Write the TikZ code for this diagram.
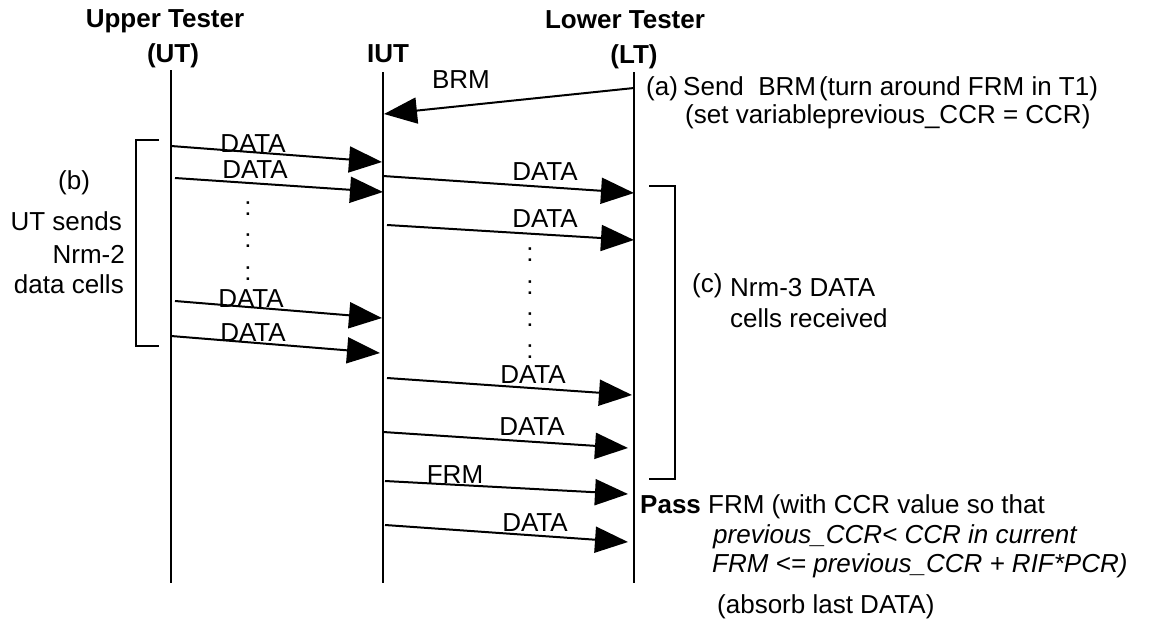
\documentclass[tikz,border=0pt]{standalone}
\usepackage{fontspec}
\setmainfont{Liberation Sans}
\usetikzlibrary{arrows.meta}
\begin{document}
\begin{tikzpicture}[x=1pt,y=-1pt,
  life/.style={line width=2pt},
  msg/.style={line width=2pt,-{Triangle[length=33pt,width=26pt]}},
  brk/.style={line width=2pt},
  lbl/.style={anchor=base,inner sep=0pt,font=\fontsize{26}{30}\selectfont},
  lbll/.style={lbl,anchor=base west},
  lblr/.style={lbl,anchor=base east},
  hdr/.style={lbl,font=\fontsize{26}{30}\selectfont\bfseries},
  dots/.style={lbl}]
\useasboundingbox (0,0) rectangle (1149,627);
% lifelines
\coordinate (ut-t) at (171,70);  \coordinate (ut-b) at (171,583);
\coordinate (iut-t) at (383,72); \coordinate (iut-b) at (383,583);
\coordinate (lt-t) at (634,72);  \coordinate (lt-b) at (634,583);
\draw[life] (ut-t) -- (ut-b);
\draw[life] (iut-t) -- (iut-b);
\draw[life] (lt-t) -- (lt-b);
% headers
\node[hdr] (h-ut1) at (165,27) {Upper Tester};
\node[hdr] (h-ut2) at (173,62) {(UT)};
\node[hdr] (h-iut) at (388,62) {IUT};
\node[hdr] (h-lt1) at (625,28) {Lower Tester};
\node[hdr] (h-lt2) at (634,63) {(LT)};
% message end points
\coordinate (brm-s) at (634,88);  \coordinate (brm-e) at (384,114);
\coordinate (u1-s) at (171,146);  \coordinate (u1-e) at (382,162);
\coordinate (u2-s) at (175,178);  \coordinate (u2-e) at (383,192);
\coordinate (u3-s) at (175,301);  \coordinate (u3-e) at (382,318);
\coordinate (u4-s) at (171,336);  \coordinate (u4-e) at (380,353);
\coordinate (l1-s) at (383,176);  \coordinate (l1-e) at (634,193);
\coordinate (l2-s) at (387,225);  \coordinate (l2-e) at (634,240);
\coordinate (l3-s) at (387,378);  \coordinate (l3-e) at (632,395);
\coordinate (l4-s) at (383,432);  \coordinate (l4-e) at (628,448);
\coordinate (frm-s) at (385,481); \coordinate (frm-e) at (628,494);
\coordinate (l6-s) at (385,525);  \coordinate (l6-e) at (628,542);
\draw[msg] (brm-s) -- (brm-e);
\draw[msg] (u1-s) -- (u1-e);
\draw[msg] (u2-s) -- (u2-e);
\draw[msg] (u3-s) -- (u3-e);
\draw[msg] (u4-s) -- (u4-e);
\draw[msg] (l1-s) -- (l1-e);
\draw[msg] (l2-s) -- (l2-e);
\draw[msg] (l3-s) -- (l3-e);
\draw[msg] (l4-s) -- (l4-e);
\draw[msg] (frm-s) -- (frm-e);
\draw[msg] (l6-s) -- (l6-e);
% message labels
\node[lbl] (t-brm) at (461,88) {BRM};
\node[lbl] (t-u1) at (253,152) {DATA};
\node[lbl] (t-u2) at (255,178) {DATA};
\node[lbl] (t-u3) at (251,307) {DATA};
\node[lbl] (t-u4) at (253,341) {DATA};
\node[lbl] (t-l1) at (545,180) {DATA};
\node[lbl] (t-l2) at (545,227) {DATA};
\node[lbl] (t-l3) at (533,383) {DATA};
\node[lbl] (t-l4) at (532,435) {DATA};
\node[lbl] (t-frm) at (455,483) {FRM};
\node[lbl] (t-l6) at (535,531) {DATA};
% colons
\node[dots] (d1) at (248,215) {:};
\node[dots] (d2) at (248,247) {:};
\node[dots] (d3) at (248,280) {:};
\node[dots] (d4) at (530,261) {:};
\node[dots] (d5) at (530,294) {:};
\node[dots] (d6) at (530,326) {:};
\node[dots] (d7) at (530,358) {:};
% brackets
\coordinate (b1) at (159,140); \coordinate (b2) at (136,140);
\coordinate (b3) at (136,346); \coordinate (b4) at (159,346);
\draw[brk] (b1) -- (b2) -- (b3) -- (b4);
\coordinate (c1) at (649,186); \coordinate (c2) at (675,186);
\coordinate (c3) at (675,479); \coordinate (c4) at (649,479);
\draw[brk] (c1) -- (c2) -- (c3) -- (c4);
% annotations
\node[lbll] (a1) at (646,95) {(a)};
\node[lbll] (a2) at (683,95) {Send\ \ BRM\hspace{3pt}(turn around FRM in T1)};
\node[lbll] (a3) at (685,123) {(set variableprevious\_CCR = CCR)};
\node[lbll] (b-1) at (58,189) {(b)};
\node[lblr] (b-2) at (122,230) {UT sends};
\node[lblr] (b-3) at (125,263) {Nrm-2};
\node[lblr] (b-4) at (124,293) {data cells};
\node[lbll] (c-1) at (692,292) {(c)};
\node[lbll] (c-2) at (730,296) {Nrm-3 DATA};
\node[lbll] (c-3) at (730,327) {cells received};
\node[lbll,font=\fontsize{26}{30}\selectfont\bfseries] (p1) at (640,513) {Pass};
\node[lbll] (p2) at (708,513) {FRM (with CCR value so that};
\node[lbll,font=\fontsize{26}{30}\selectfont\itshape] (p3) at (713,543) {previous\_CCR< CCR in current};
\node[lbll,font=\fontsize{26}{30}\selectfont\itshape] (p4) at (712,572) {FRM <= previous\_CCR + RIF*PCR)};
\node[lbll] (p5) at (717,613) {(absorb last DATA)};
\end{tikzpicture}
\end{document}
